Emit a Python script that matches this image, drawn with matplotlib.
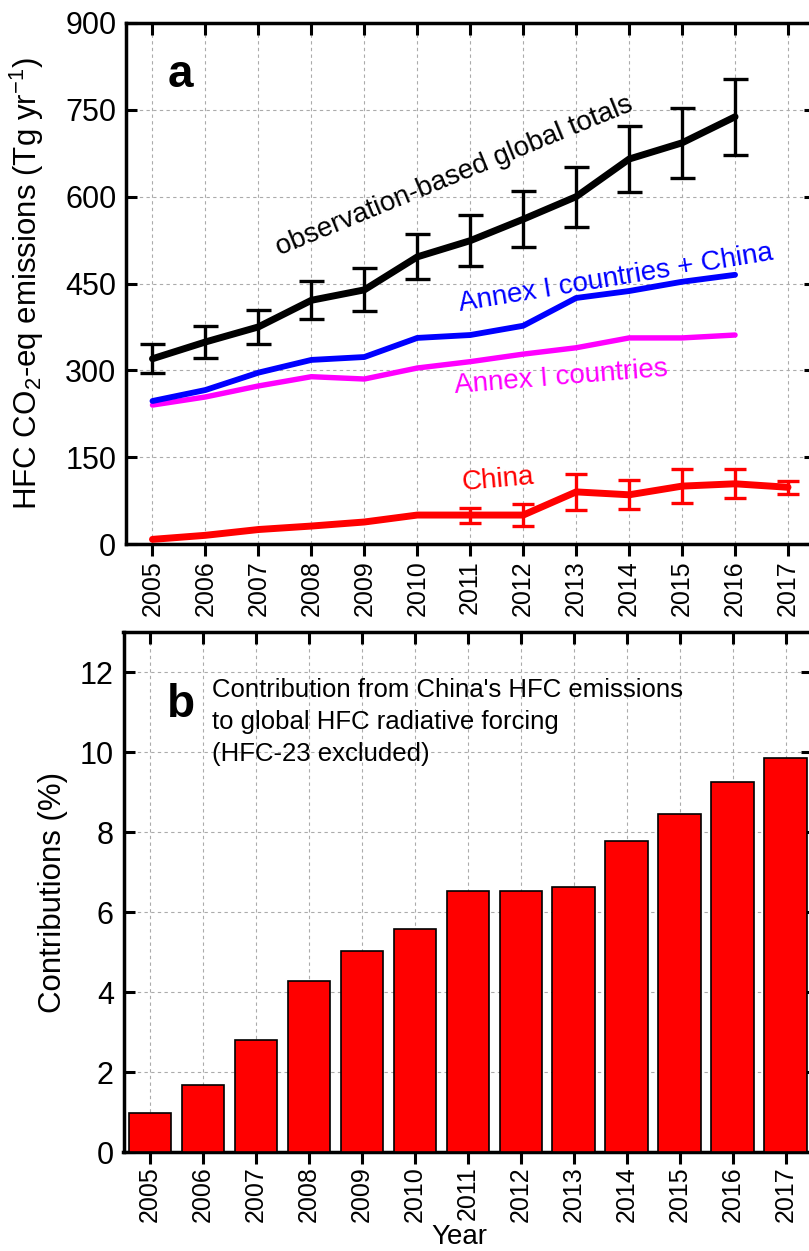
import matplotlib
matplotlib.use("Agg")
import matplotlib.pyplot as plt
from matplotlib.markers import TICKDOWN

plt.rcParams['font.family'] = ['Liberation Sans', 'DejaVu Sans']
plt.rcParams['mathtext.default'] = 'regular'

years = list(range(2005, 2018))
years_a = list(range(2005, 2017))

global_total = [320, 349, 375, 421, 439, 496, 524, 561, 600, 665, 693, 738]
global_err = [25, 27, 30, 33, 37, 39, 44, 48, 52, 57, 61, 66]
annex_china = [247, 266, 296, 318, 323, 356, 361, 377, 425, 437, 453, 465]
annex = [240, 254, 273, 289, 285, 304, 315, 328, 339, 356, 356, 361]
china = [8, 15, 25, 31, 38, 50, 50, 50, 90, 85, 100, 104, 98]
china_err = [0, 0, 0, 0, 0, 0, 13, 19, 31, 25, 30, 25, 11]
china_err_years = years[6:]

contrib = [0.97, 1.68, 2.8, 4.27, 5.02, 5.58, 6.52, 6.52, 6.62, 7.77, 8.45, 9.26, 9.85]

W, H = 809, 1251
fig = plt.figure(figsize=(W / 100, H / 100), dpi=100)

def axpos(l, r, t, b):
    return [l / W, 1 - b / H, (r - l) / W, (b - t) / H]

ax1 = fig.add_axes(axpos(126, 814.5, 23, 544))
ax2 = fig.add_axes(axpos(123.5, 812, 632, 1152))

grid_kw = dict(color='#ababab', linestyle=(0, (3, 3)), linewidth=0.8)

for ax in (ax1, ax2):
    ax.set_axisbelow(True)
    ax.grid(True, **grid_kw)
    for s in ax.spines.values():
        s.set_linewidth(2.5)
    ax.set_xlim(2004.5, 2017.5)
    ax.set_xticks(years)
    ax.set_xticklabels([str(y) for y in years], rotation=90, fontsize=18)
    ax.tick_params(axis='x', which='major', bottom=True, top=True, labeltop=False,
                   direction='out', length=8.5, width=2.2)
    ax.tick_params(axis='y', which='major', left=True, right=True, direction='in',
                   length=8, width=2.2, labelsize=22)

# ---- Panel a ----
ax1.set_ylim(0, 900)
ax1.set_yticks([0, 150, 300, 450, 600, 750, 900])
ax1.tick_params(axis='y', pad=7)
ax1.tick_params(axis='x', pad=3)

ax1.plot(years_a, annex, color='#ff00ff', lw=3.9, solid_capstyle='round', zorder=3)
ax1.plot(years_a, annex_china, color='#0000ff', lw=4.2, solid_capstyle='round', zorder=3)
ax1.plot(years, china, color='#ff0000', lw=5.0, solid_capstyle='round', zorder=3)
ax1.errorbar(china_err_years, china[6:], yerr=china_err[6:], fmt='none',
             ecolor='#ff0000', elinewidth=2.4, capsize=8, capthick=2.4, zorder=4)
ax1.plot(years_a, global_total, color='black', lw=5.0, solid_capstyle='round', zorder=3)
ax1.errorbar(years_a, global_total, yerr=global_err, fmt='none',
             ecolor='black', elinewidth=2.4, capsize=9, capthick=2.4, zorder=4)

ax1.set_ylabel('HFC CO$_2$-eq emissions (Tg yr$^{-1}$)', fontsize=22.5)
ax1.yaxis.set_label_coords(-0.1155, 0.5)

ax1.text(2005.29, 790, 'a', fontsize=33, fontweight='bold', ha='left', va='baseline')
ax1.text(2007.41, 499, 'observation-based global totals', fontsize=20, rotation=22.3,
         rotation_mode='anchor', ha='left', va='baseline', color='black')
ax1.text(2010.80, 403, 'Annex I countries + China', fontsize=20, rotation=9.3,
         rotation_mode='anchor', ha='left', va='baseline', color='#0000ff')
ax1.text(2010.71, 261, 'Annex I countries', fontsize=20, rotation=4.6,
         rotation_mode='anchor', ha='left', va='baseline', color='#ff00ff')
ax1.text(2010.86, 93, 'China', fontsize=20, rotation=5.0,
         rotation_mode='anchor', ha='left', va='baseline', color='#ff0000')

# ---- Panel b ----
ax2.set_ylim(0, 13)
ax2.set_yticks([0, 2, 4, 6, 8, 10, 12])
ax2.tick_params(axis='y', pad=7)
ax2.tick_params(axis='x', pad=2)
ax2.bar(years, contrib, width=0.8, color='#ff0000', edgecolor='black', linewidth=1.2, zorder=3)

ax2.set_ylabel('Contributions (%)', fontsize=22.5)
ax2.yaxis.set_label_coords(-0.080, 0.5)
ax2.set_xlabel('Year', fontsize=20)
ax2.xaxis.label.set_va('baseline')
ax2.xaxis.set_label_coords(0.488, -0.177)

ax2.text(2005.32, 10.875, 'b', fontsize=33, fontweight='bold', ha='left', va='baseline')
ax2.text(2006.17, 11.375, "Contribution from China's HFC emissions", fontsize=18.5,
         ha='left', va='baseline')
ax2.text(2006.17, 10.575, 'to global HFC radiative forcing', fontsize=18.5,
         ha='left', va='baseline')
ax2.text(2006.17, 9.775, '(HFC-23 excluded)', fontsize=18.5, ha='left', va='baseline')

# top x ticks point inward (downwards)
for ax in (ax1, ax2):
    for t in ax.xaxis.get_major_ticks():
        t.tick2line.set_marker(TICKDOWN)

fig.savefig('out.png', dpi=100)
